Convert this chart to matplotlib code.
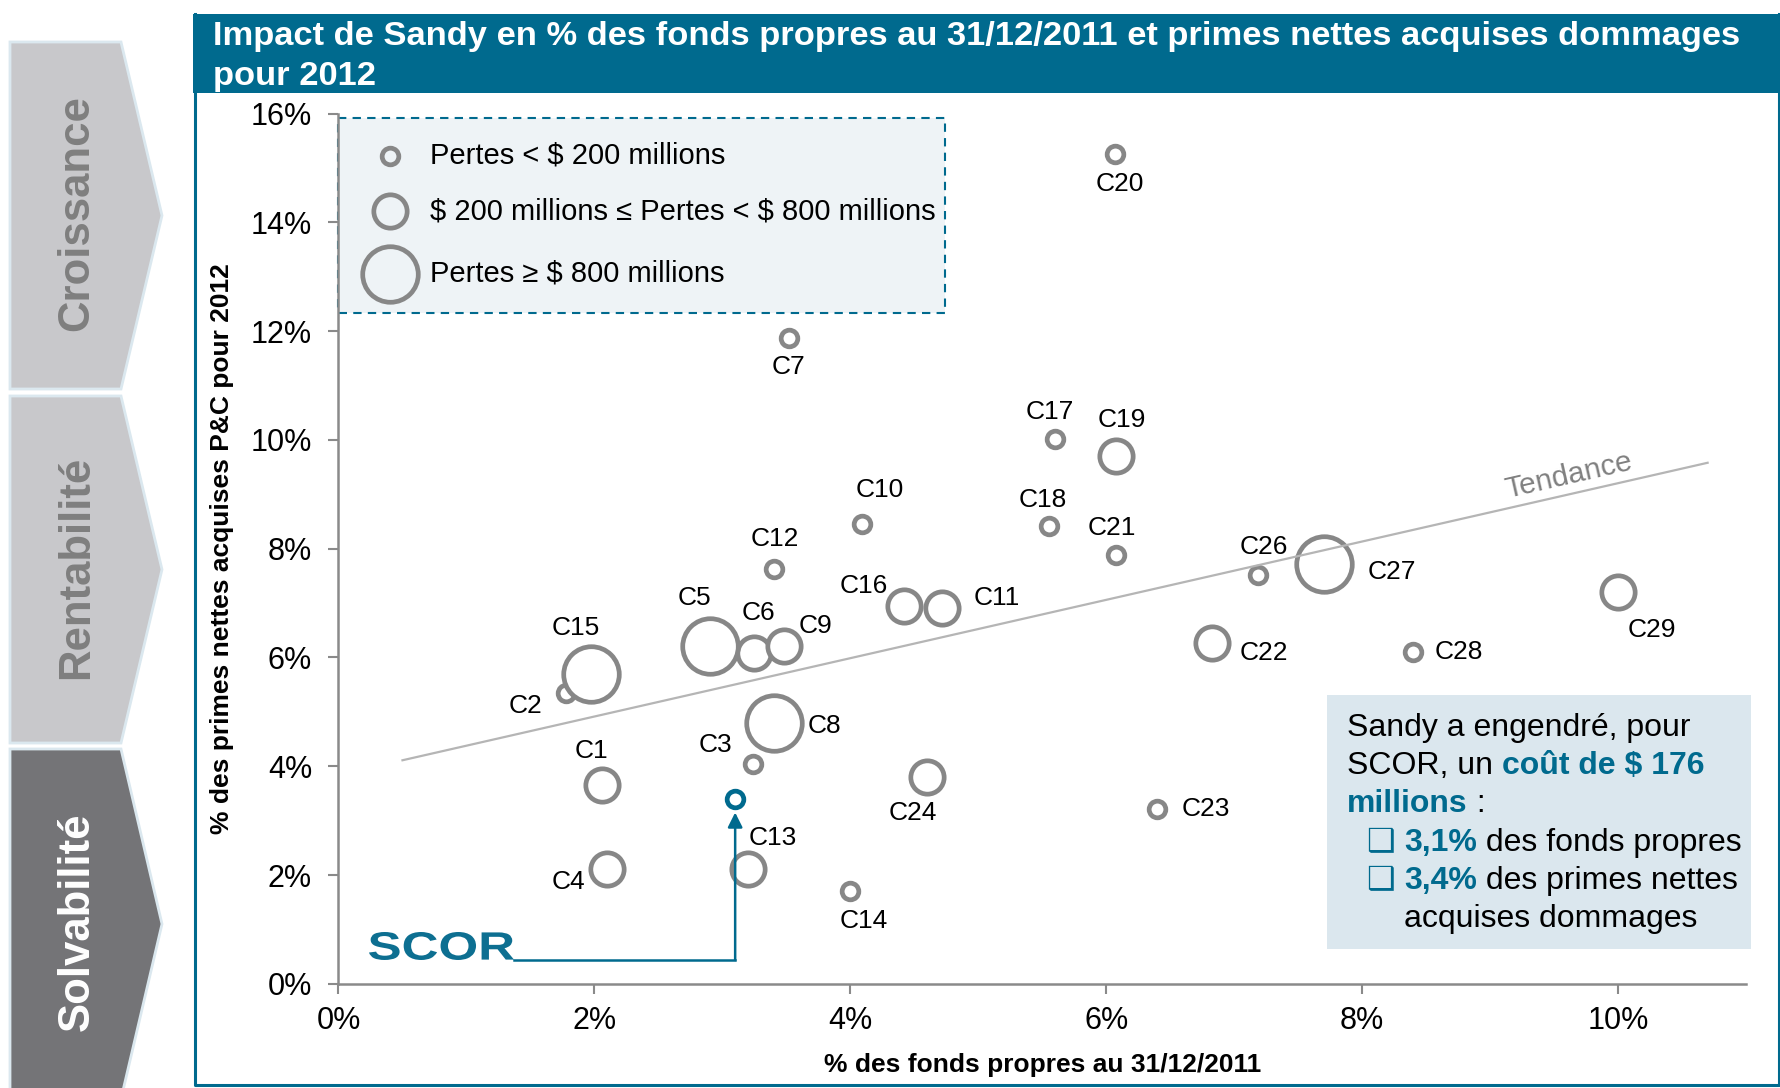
import math
import matplotlib
matplotlib.use("Agg")
import matplotlib.pyplot as plt
from matplotlib.patches import Polygon, Rectangle, PathPatch
from matplotlib.textpath import TextPath
from matplotlib.font_manager import FontProperties
from matplotlib.transforms import Affine2D

plt.rcParams['font.family'] = ['Liberation Sans', 'DejaVu Sans']

# data (% of equity, % of net earned P&C premiums)
names = ['C1', 'C2', 'C3', 'C4', 'C5', 'C6', 'C7', 'C8', 'C9', 'C10',
         'C11', 'C12', 'C13', 'C14', 'C15', 'C16', 'C17', 'C18', 'C19', 'C20',
         'C21', 'C22', 'C23', 'C24', 'C26', 'C27', 'C28', 'C29']
x_vals = [2.06, 1.78, 3.24, 2.10, 2.90, 3.25, 3.52, 3.40, 3.48, 4.09,
          4.72, 3.40, 3.20, 4.00, 1.97, 4.42, 5.60, 5.55, 6.08, 6.07,
          6.08, 6.83, 6.40, 4.60, 7.19, 7.70, 8.40, 10.00]
y_vals = [3.65, 5.34, 4.05, 2.11, 6.22, 6.08, 11.88, 4.80, 6.22, 8.46,
          6.91, 7.62, 2.11, 1.71, 5.70, 6.95, 10.02, 8.41, 9.71, 15.26,
          7.89, 6.26, 3.21, 3.80, 7.52, 7.72, 6.10, 7.20]
loss_class = ['m', 's', 's', 'm', 'l', 'm', 's', 'l', 'm', 's',
              'm', 's', 'm', 's', 'l', 'm', 's', 's', 'm', 's',
              's', 'm', 's', 'm', 's', 'l', 's', 'm']
scor_x, scor_y = 3.1, 3.4
trend_x = [0.5, 10.7]
trend_y = [4.11, 9.58]
x_ticks = [0, 2, 4, 6, 8, 10]
y_ticks = [0, 2, 4, 6, 8, 10, 12, 14, 16]
legend_labels = ['Pertes < $ 200 millions',
                 '$ 200 millions ≤ Pertes < $ 800 millions',
                 'Pertes ≥ $ 800 millions']

# label offsets (points) around each bubble
label_off = {'C1': (-8, 25), 'C2': (-29, -9), 'C3': (-27, 13), 'C4': (-28, -9),
             'C5': (-11, 34), 'C6': (3, 29), 'C7': (0, -21), 'C8': (37, -2),
             'C9': (23, 14), 'C10': (13, 24), 'C11': (39, 7), 'C12': (1, 22),
             'C13': (18, 22), 'C14': (10, -22), 'C15': (-11, 33), 'C16': (-29, 14),
             'C17': (-4, 19), 'C18': (-4, 19), 'C19': (4, 26), 'C20': (3, -22),
             'C21': (-3, 19), 'C22': (37, -7), 'C23': (35, 0), 'C24': (-10, -26),
             'C26': (4, 20), 'C27': (49, -6), 'C28': (33, 0), 'C29': (24, -27)}
marker_ms = {'s': 12, 'm': 24, 'l': 40}
GREY = '#878787'
TEAL = '#006A8E'

W, H = 1781, 1088
fig = plt.figure(figsize=(W / 100, H / 100), dpi=100)

# background layer in pixel coordinates
bg = fig.add_axes([0, 0, 1, 1], zorder=0)
bg.set_xlim(0, W)
bg.set_ylim(H, 0)
bg.axis('off')

# side chevrons
chev = [('Croissance', 42, 389, '#c8c8cb', '#7f7f7f'),
        ('Rentabilité', 396, 743, '#c8c8cb', '#7f7f7f'),
        ('Solvabilité', 749, 1099, '#747477', 'white')]
for lab, top, bot, fc, tc in chev:
    mid = (top + bot) / 2
    bg.add_patch(Polygon([(10, top), (121, top), (162, mid), (121, bot), (10, bot)],
                         closed=True, fc=fc, ec='#dbe8ef', lw=2))
    bg.text(77, mid - 2, lab, rotation=90, ha='center', va='center',
            fontsize=31.5, fontweight='bold', color=tc)

# title band and frame
bg.add_patch(Rectangle((193, 14), W - 193, 79, fc=TEAL, ec='none'))
bg.plot([195, 195, W - 2, W - 2], [14, H - 3, H - 3, 14], color=TEAL, lw=2.2)
bg.text(213, 37, 'Impact de Sandy en % des fonds propres au 31/12/2011 et primes nettes acquises dommages',
        color='white', fontsize=24.8, fontweight='bold', va='center', ha='left')
bg.text(213, 77, 'pour 2012', color='white', fontsize=24.8, fontweight='bold',
        va='center', ha='left')

# legend box
bg.add_patch(Rectangle((338, 118), 607, 195, fc='#eef3f6', ec=TEAL, lw=1.5,
                       ls=(0, (4, 3))))
for i, (cls, yy) in enumerate(zip(['s', 'm', 'l'], [156, 211, 274])):
    bg.plot([390], [yy], 'o', ms=marker_ms[cls], mfc='#eef3f6', mec=GREY, mew=3.4)
    bg.text(430, yy, legend_labels[i], fontsize=21, va='center', ha='left',
            parse_math=False)

# comment box
bg.add_patch(Rectangle((1327, 695), 424, 254, fc='#dbe7ee', ec='none'))
rend = fig.canvas.get_renderer()


def runs(x, y, parts, size=23):
    for s, col, wt in parts:
        t = bg.text(x, y, s, fontsize=size, color=col, fontweight=wt,
                    va='center', ha='left', parse_math=False)
        bb = t.get_window_extent(rend)
        x += bb.width


runs(1347, 728, [('Sandy a engendré, pour', 'black', 'normal')])
runs(1347, 766, [('SCOR, un ', 'black', 'normal'), ('coût de $ 176', TEAL, 'bold')])
runs(1347, 804, [('millions', TEAL, 'bold'), (' :', 'black', 'normal')])
runs(1367, 843, [('❑ ', TEAL, 'bold'), ('3,1%', TEAL, 'bold'), (' des fonds propres', 'black', 'normal')])
runs(1367, 881, [('❑ ', TEAL, 'bold'), ('3,4%', TEAL, 'bold'), (' des primes nettes', 'black', 'normal')])
runs(1404, 919, [('acquises dommages', 'black', 'normal')])

# SCOR logo, stretched text path
tp = TextPath((0, 0), 'SCOR', size=40, prop=FontProperties(family='Liberation Sans', weight='bold'))
ext = tp.get_extents()
sx = 145 / ext.width
sy = 28 / ext.height
tr = Affine2D().translate(-ext.x0, -ext.y0).scale(sx, -sy).translate(369, 960) + bg.transData
bg.add_patch(PathPatch(tp, fc='#0d6f91', ec='none', transform=tr))

# main axes
ax = fig.add_axes([338.5 / W, 1 - 983.8 / H, (1746 - 338.5) / W, (983.8 - 113.6) / H], zorder=1)
ax.set_facecolor('none')
ax.set_xlim(0, 11)
ax.set_ylim(0, 16)
for sp in ['top', 'right']:
    ax.spines[sp].set_visible(False)
for sp in ['left', 'bottom']:
    ax.spines[sp].set_color('#8a8a8a')
    ax.spines[sp].set_linewidth(1.8)
ax.set_xticks(x_ticks)
ax.set_yticks(y_ticks)
ax.set_xticklabels([f'{v}%' for v in x_ticks])
ax.set_yticklabels([f'{v}%' for v in y_ticks])
ax.tick_params(axis='both', direction='out', length=7, width=1.5, color='#8a8a8a',
               labelsize=22)
ax.tick_params(axis='y', pad=12)
ax.tick_params(axis='x', pad=9)
ax.set_xlabel('% des fonds propres au 31/12/2011', fontsize=19, fontweight='bold', labelpad=12)
ax.set_ylabel('% des primes nettes acquises P&C pour 2012', fontsize=19, fontweight='bold', labelpad=12)

for cls in ['s', 'm', 'l']:
    idx = [i for i, c in enumerate(loss_class) if c == cls]
    ax.scatter([x_vals[i] for i in idx], [y_vals[i] for i in idx],
               s=marker_ms[cls] ** 2, facecolors='white', edgecolors=GREY,
               linewidths=3.4, zorder=3)
for n, xv, yv in zip(names, x_vals, y_vals):
    dx, dy = label_off[n]
    ax.annotate(n, (xv, yv), xytext=(dx, dy), textcoords='offset points',
                ha='center', va='center', fontsize=19, zorder=5)

# trend line
ax.plot(trend_x, trend_y, color='#b5b5b5', lw=1.6, zorder=4)
p0 = ax.transData.transform((trend_x[0], trend_y[0]))
p1 = ax.transData.transform((trend_x[1], trend_y[1]))
ang = math.degrees(math.atan2(p1[1] - p0[1], p1[0] - p0[0]))
tx = 9.65
ty = trend_y[0] + (trend_y[1] - trend_y[0]) * (tx - trend_x[0]) / (trend_x[1] - trend_x[0])
ax.annotate('Tendance', (tx, ty), xytext=(-3, 13), textcoords='offset points',
            rotation=ang, rotation_mode='anchor', ha='center', va='center',
            fontsize=21.5, color='#808080')

# SCOR point and arrow from logo
ax.scatter([scor_x], [scor_y], s=12 ** 2, facecolors='white', edgecolors=TEAL,
           linewidths=3.4, zorder=6)
y_link = (983.8 - 960) / ((983.8 - 113.6) / 16)
x_logo = (514 - 338.5) / ((1746 - 338.5) / 11)
ax.plot([x_logo, scor_x], [y_link, y_link], color=TEAL, lw=1.8, zorder=5)
ax.annotate('', xy=(scor_x, scor_y - 0.25), xytext=(scor_x, y_link),
            arrowprops=dict(arrowstyle='-|>', color=TEAL, lw=1.8,
                            mutation_scale=22, shrinkA=0, shrinkB=0), zorder=5)

fig.savefig('out.png', dpi=100)
